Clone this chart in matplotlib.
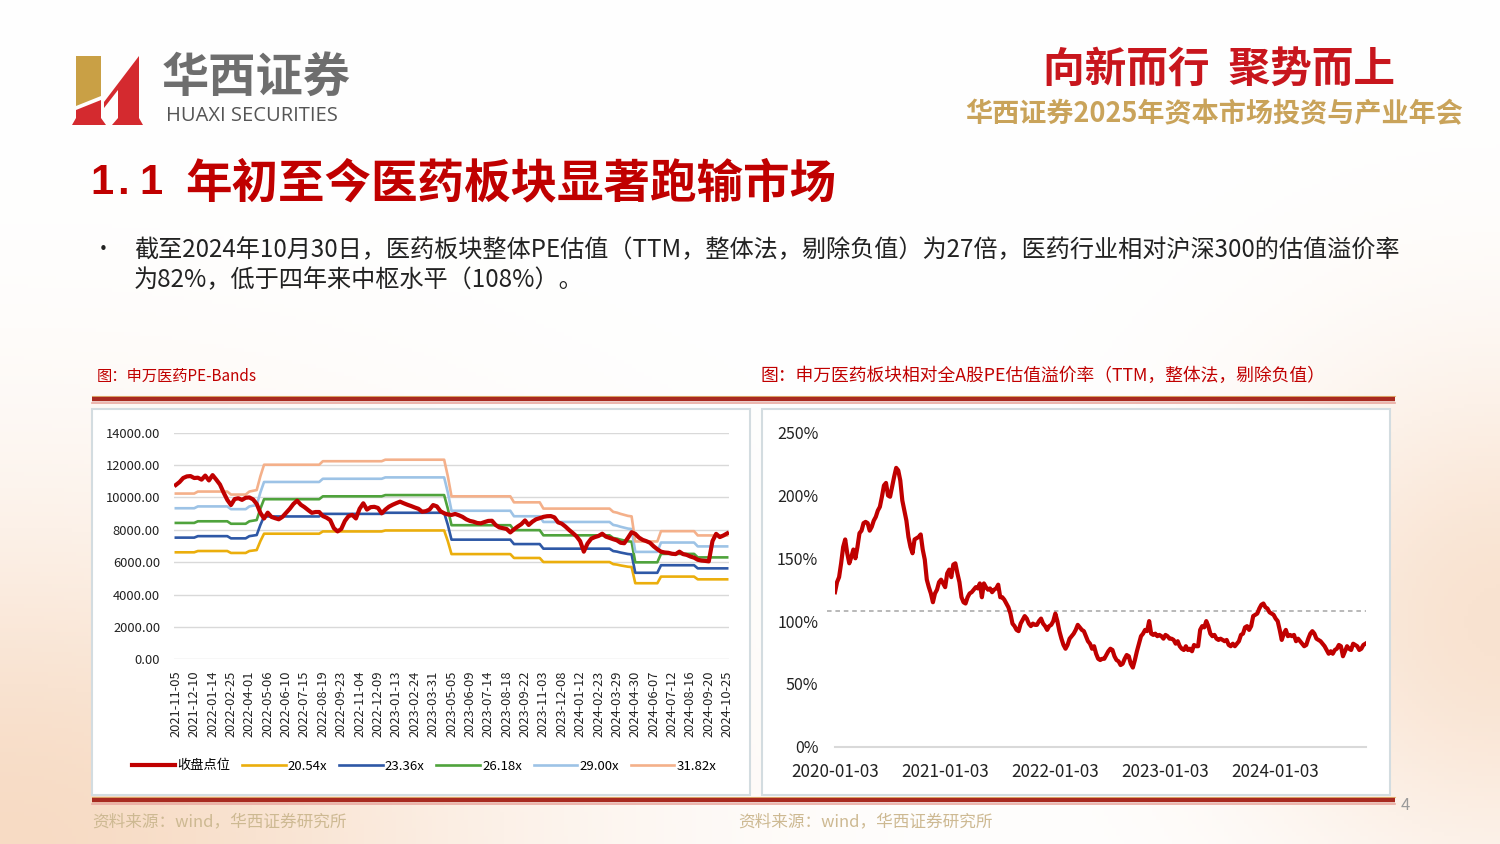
import numpy as np
import pandas as pd
import matplotlib
matplotlib.use("Agg")
import matplotlib.pyplot as plt
import matplotlib.dates as mdates
from matplotlib.patches import Rectangle, Polygon

plt.rcParams['font.family'] = ['Noto Sans CJK SC', 'DejaVu Sans']

# ── left chart: SW pharma index weekly close and PE bands ───────────────────
tick_dates = [
    "2021-11-05", "2021-12-10", "2022-01-14", "2022-02-25", "2022-04-01",
    "2022-05-06", "2022-06-10", "2022-07-15", "2022-08-19", "2022-09-23",
    "2022-11-04", "2022-12-09", "2023-01-13", "2023-02-24", "2023-03-31",
    "2023-05-05", "2023-06-09", "2023-07-14", "2023-08-18", "2023-09-22",
    "2023-11-03", "2023-12-08", "2024-01-12", "2024-02-23", "2024-03-29",
    "2024-04-30", "2024-06-07", "2024-07-12", "2024-08-16", "2024-09-20",
    "2024-10-25",
]
close = [
    10770, 10950, 11200, 11300, 11320, 11200, 11220, 11100, 11350, 11050,
    11380, 11100, 10800, 10300, 9850, 9530, 9900, 9950, 9850, 9980,
    10000, 9880, 9600, 9050, 8700, 9060, 8800, 8720, 8650, 8800,
    9050, 9300, 9600, 9800, 9550, 9400, 9220, 9050, 9100, 9100,
    8850, 8750, 8600, 8100, 7900, 8050, 8550, 8850, 8920, 8700,
    9300, 9640, 9250, 9400, 9420, 9350, 9020, 9250, 9430, 9550,
    9650, 9740, 9640, 9550, 9470, 9380, 9300, 9120, 9150, 9250,
    9530, 9450, 9150, 9020, 8950, 8920, 8980, 8900, 8800, 8650,
    8550, 8500, 8420, 8400, 8480, 8550, 8560, 8300, 8150, 8100,
    8050, 7840, 8030, 8200, 8350, 8580, 8300, 8500, 8650, 8720,
    8800, 8840, 8850, 8770, 8460, 8380, 8200, 7990, 7800, 7600,
    7300, 6650, 7150, 7450, 7550, 7620, 7760, 7580, 7500, 7420,
    7350, 7200, 7170, 7500, 7850, 7750, 7520, 7380, 7300, 7200,
    6980, 6800, 6650, 6600, 6580, 6520, 6500, 6650, 6500, 6450,
    6350, 6280, 6150, 6100, 6080, 6050, 7300, 7750, 7550, 7650,
    7780,
]
# the 20.54x band; the other bands scale with it
band_2054 = [
    6610, 6610, 6610, 6610, 6610, 6610, 6690, 6690, 6690, 6690,
    6690, 6690, 6690, 6690, 6690, 6570, 6570, 6570, 6570, 6570,
    6690, 6720, 6750, 7300, 7760, 7760, 7760, 7760, 7760, 7760,
    7760, 7760, 7760, 7760, 7760, 7760, 7760, 7760, 7760, 7760,
    7900, 7900, 7900, 7900, 7900, 7900, 7900, 7900, 7900, 7900,
    7900, 7900, 7900, 7900, 7900, 7900, 7900, 7960, 7960, 7960,
    7960, 7960, 7960, 7960, 7960, 7960, 7960, 7960, 7960, 7960,
    7960, 7960, 7960, 7960, 7300, 6500, 6500, 6500, 6500, 6500,
    6500, 6500, 6500, 6500, 6500, 6500, 6500, 6500, 6500, 6500,
    6500, 6500, 6260, 6260, 6260, 6260, 6260, 6260, 6260, 6260,
    6010, 6010, 6010, 6010, 6010, 6010, 6010, 6010, 6010, 6010,
    6010, 6010, 6010, 6010, 6010, 6010, 6010, 6010, 6010, 5880,
    5850, 5800, 5760, 5720, 5700, 4700, 4700, 4700, 4700, 4700,
    4700, 4700, 5110, 5110, 5110, 5110, 5110, 5110, 5110, 5110,
    5110, 5110, 4940, 4940, 4940, 4940, 4940, 4940, 4940, 4940,
    4940,
]
multiples = [20.54, 23.36, 26.18, 29.00, 31.82]
band_labels = ["20.54x", "23.36x", "26.18x", "29.00x", "31.82x"]
band_colors = ["#EBAE0C", "#2E58A6", "#4FA33C", "#9DC3E6", "#F4B08A"]

# ── right chart: premium of SW pharma vs all-A PE (%) ───────────────────────
premium = [
    123, 131, 135, 146, 159, 165, 154, 146, 151, 157, 150, 159, 170, 172, 178,
    179, 178, 172, 175, 180, 183, 188, 191, 199, 208, 210, 200, 199, 207, 215,
    222, 220, 212, 196, 188, 180, 167, 159, 154, 165, 166, 167, 169, 157, 149,
    133, 127, 122, 115, 122, 125, 131, 133, 130, 127, 138, 141, 135, 145, 146,
    138, 131, 119, 115, 114, 119, 122, 123, 125, 127, 126, 130, 119, 130, 127,
    125, 126, 123, 125, 126, 129, 119, 119, 117, 114, 111, 106, 98, 96, 93,
    92, 98, 101, 104, 102, 98, 96, 98, 97, 97, 100, 102, 98, 96, 93,
    96, 97, 100, 106, 100, 92, 86, 81, 78, 81, 86, 88, 90, 93, 97,
    95, 93, 92, 88, 84, 82, 78, 80, 74, 70, 69, 70, 70, 73, 76,
    78, 77, 72, 69, 68, 65, 66, 70, 73, 72, 66, 63, 69, 76, 82,
    88, 90, 93, 92, 100, 90, 89, 90, 88, 89, 88, 86, 89, 88, 86,
    86, 85, 82, 84, 80, 78, 77, 80, 77, 78, 76, 81, 80, 80, 93,
    96, 95, 100, 96, 90, 88, 89, 86, 85, 86, 85, 84, 85, 81, 80,
    82, 80, 82, 84, 89, 90, 95, 96, 93, 96, 104, 105, 106, 110, 113,
    114, 111, 110, 107, 106, 105, 102, 100, 93, 85, 90, 93, 88, 89, 88,
    89, 84, 86, 84, 82, 80, 81, 86, 90, 92, 90, 86, 85, 84, 82,
    80, 77, 74, 76, 74, 77, 78, 81, 80, 72, 76, 80, 78, 77, 82,
    81, 80, 77, 78, 81, 82,
]
premium_center = 108
premium_ticks = ["2020-01-03", "2021-01-03", "2022-01-03", "2023-01-03", "2024-01-03"]

RED = "#C00000"
W, H = 1500, 844

fig = plt.figure(figsize=(15, 8.44), dpi=100)

# ── slide background / decorations in pixel coordinates ─────────────────────
bg = fig.add_axes([0, 0, 1, 1])
bg.set_xlim(0, W)
bg.set_ylim(H, 0)
bg.axis("off")

gy, gx = np.mgrid[0:H:4, 0:W:4]
glow = np.exp(-(((gx - 0) / 520.0) ** 2 + ((gy - H) / 330.0) ** 2))
glow += 0.8 * np.exp(-(((gx - W) / 260.0) ** 2 + ((gy - 620) / 260.0) ** 2))
glow = np.clip(glow, 0, 1)[..., None]
peach = np.array([0.97, 0.86, 0.77])
img = 1 - glow * (1 - peach)
bg.imshow(img, extent=[0, W, H, 0], aspect="auto", zorder=0)

# logo mark
bg.add_patch(Polygon([(76, 56), (101, 56), (101, 96), (76, 106)], closed=True,
                     facecolor="#C9A045", edgecolor="none", zorder=2))
bg.add_patch(Polygon([(76, 110), (101, 100), (101, 118), (106, 125), (72, 125), (76, 118)],
                     closed=True, facecolor="#D42A2F", edgecolor="none", zorder=2))
bg.add_patch(Polygon([(104, 102), (139, 56), (139, 118), (143, 125), (112, 125),
                      (118, 118), (118, 90), (104, 108)],
                     closed=True, facecolor="#D42A2F", edgecolor="none", zorder=2))
bg.text(162, 78, "华西证券", fontsize=34, fontweight="bold", color="#6E6E6E",
        va="center", ha="left", zorder=3)
bg.text(166, 116, "HUAXI SECURITIES", fontsize=14.5, color="#555555",
        family=["Open Sans", "DejaVu Sans"], va="center", ha="left", zorder=3)

# slogan
bg.text(1219, 71, "向新而行  聚势而上", fontsize=30, fontweight="heavy", color="#C8161D",
        va="center", ha="center", zorder=3)
bg.text(1214, 114, "华西证券2025年资本市场投资与产业年会", fontsize=19.5, fontweight="bold",
        color="#C9A35A", va="center", ha="center", zorder=3)

# title
for xx, ch in ((90, "1"), (117, "."), (139, "1")):
    bg.text(xx, 183, ch, fontsize=30, fontweight="bold", color=RED, va="center", ha="left",
            family=["Liberation Sans", "DejaVu Sans"], zorder=3)
bg.text(185, 183, "年初至今医药板块显著跑输市场", fontsize=33.5, fontweight="bold", color=RED,
        va="center", ha="left", zorder=3)

# bullet text
bg.text(93, 250, "•", fontsize=15, color="#222222", va="center", ha="left", zorder=3)
bg.text(134, 250, "截至2024年10月30日，医药板块整体PE估值（TTM，整体法，剔除负值）为27倍，医药行业相对沪深300的估值溢价率",
        fontsize=17.4, color="#222222", va="center", ha="left", zorder=3)
bg.text(134, 280, "为82%，低于四年来中枢水平（108%）。",
        fontsize=17.4, color="#222222", va="center", ha="left", zorder=3)

# chart captions
bg.text(97, 376, "图：申万医药PE-Bands", fontsize=11, color=RED, va="center", ha="left", zorder=3)
bg.text(760, 376, "图：申万医药板块相对全A股PE估值溢价率（TTM，整体法，剔除负值）",
        fontsize=12.8, color=RED, va="center", ha="left", zorder=3)

# red separator bars
for yy in (399, 800):
    bg.plot([92, 1395], [yy - 3, yy - 3], color="#E8C27A", lw=0.8, zorder=2)
    bg.plot([92, 1395], [yy, yy], color="#A82A20", lw=3.2, zorder=2, solid_capstyle="butt")
    bg.plot([92, 1395], [yy + 3.5, yy + 3.5], color="#E9A9A0", lw=1.2, zorder=2)

# chart boxes
bg.add_patch(Rectangle((92, 409), 658, 386, facecolor="white", edgecolor="#D3DCE0",
                       lw=1.5, zorder=1.5))
bg.add_patch(Rectangle((762, 409), 628, 386, facecolor="white", edgecolor="#D3DCE0",
                       lw=1.5, zorder=1.5))

# footers
bg.text(92, 822, "资料来源：wind，华西证券研究所", fontsize=12, color="#CDB992",
        va="center", ha="left", zorder=3)
bg.text(738, 822, "资料来源：wind，华西证券研究所", fontsize=12, color="#CDB992",
        va="center", ha="left", zorder=3)
bg.text(1405, 805, "4", fontsize=12, color="#9A9A9A", va="center", ha="center", zorder=3)

# ── left chart ──────────────────────────────────────────────────────────────
n = len(close)
x = np.arange(n)
ax1 = fig.add_axes([174 / W, (H - 659.3) / H, 555 / W, 226.6 / H])
ax1.set_facecolor("none")
band_arr = np.array(band_2054, dtype=float)
lines = []
for m, lab, col in zip(multiples, band_labels, band_colors):
    ln, = ax1.plot(x, band_arr * m / multiples[0], color=col, lw=1.9, label=lab, zorder=2)
    lines.append(ln)
ln_close, = ax1.plot(x, close, color=RED, lw=3.0, label="收盘点位", zorder=3)
ax1.set_xlim(-0.5, n - 0.5)
ax1.set_ylim(0, 14000)
ax1.set_yticks(np.arange(0, 14001, 2000))
ax1.set_yticklabels([f"{v:.2f}" for v in np.arange(0, 14001, 2000)])
ax1.set_xticks(np.arange(0, n, 5))
ax1.set_xticklabels(tick_dates, rotation=90)
ax1.grid(axis="y", color="#D9D9D9", lw=1.0)
ax1.set_axisbelow(True)
for s in ax1.spines.values():
    s.set_visible(False)
ax1.tick_params(axis="both", length=0, labelsize=9.3, colors="#222222")
ax1.tick_params(axis="y", pad=10)
ax1.tick_params(axis="x", pad=8)

fig.legend([ln_close] + lines, ["收盘点位"] + band_labels, loc="center",
           bbox_to_anchor=(424 / W, 1 - 766 / H), ncol=6, frameon=False,
           fontsize=9.5, handlelength=3.3, handletextpad=0.15, columnspacing=0.9)

# ── right chart ─────────────────────────────────────────────────────────────
dates = pd.date_range("2020-01-03", "2024-10-30", periods=len(premium))
ax2 = fig.add_axes([835 / W, (H - 746.7) / H, 531 / W, 314 / H])
ax2.set_facecolor("none")
ax2.plot(dates, premium, color=RED, lw=3.0, zorder=3, solid_joinstyle="round")
ax2.axhline(premium_center, xmin=-0.016, xmax=1.0, color="#A6A6A6", lw=1.1,
            ls=(0, (3, 2.5)), zorder=2, clip_on=False)
ax2.set_ylim(0, 250)
ax2.set_xlim(pd.Timestamp("2020-01-03"), pd.Timestamp("2024-11-01"))
ax2.set_yticks(np.arange(0, 251, 50))
ax2.set_yticklabels([f"{v}%" for v in range(0, 251, 50)])
ax2.set_xticks(pd.to_datetime(premium_ticks))
ax2.xaxis.set_major_formatter(mdates.DateFormatter("%Y-%m-%d"))
for k, s in ax2.spines.items():
    s.set_visible(k == "bottom")
ax2.spines["bottom"].set_color("#D9D9D9")
ax2.spines["bottom"].set_linewidth(1.5)
ax2.tick_params(axis="y", length=0, labelsize=11.5, colors="#222222", pad=12)
ax2.tick_params(axis="x", length=0, labelsize=12.3, colors="#222222", pad=11.5)

plt.savefig("out.png", dpi=100)
plt.close()
